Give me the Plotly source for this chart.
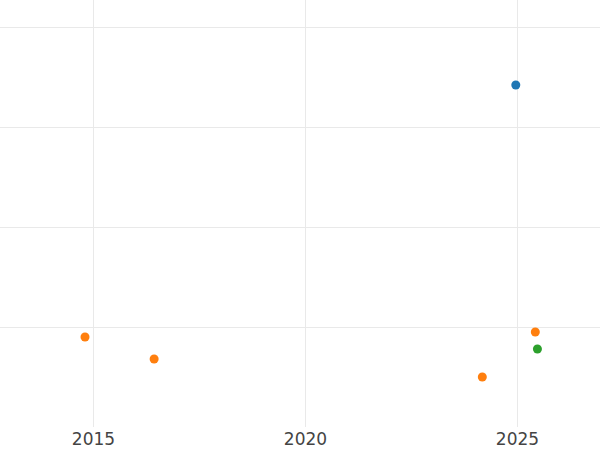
import plotly.graph_objects as go

# three groups of points, year vs value
blue_x = [2024.96]
blue_y = [342]
orange_x = [2014.80, 2016.43, 2024.17, 2025.42]
orange_y = [90, 68, 50, 95]
green_x = [2025.47]
green_y = [78]

fig = go.Figure()
fig.add_trace(go.Scatter(x=blue_x, y=blue_y, mode='markers', marker=dict(color='#1f77b4', size=9), name='A'))
fig.add_trace(go.Scatter(x=orange_x, y=orange_y, mode='markers', marker=dict(color='#ff7f0e', size=9), name='B'))
fig.add_trace(go.Scatter(x=green_x, y=green_y, mode='markers', marker=dict(color='#2ca02c', size=9), name='C'))

fig.update_layout(
    width=600, height=450,
    margin=dict(l=0, r=0, t=0, b=23),
    plot_bgcolor='white', paper_bgcolor='white',
    showlegend=False,
    font=dict(family='DejaVu Sans', size=17, color='#444'),
)
fig.update_xaxes(range=[2012.795, 2026.946], tickvals=[2015, 2020, 2025],
                 showgrid=True, gridcolor='#e9e9e9', gridwidth=1.2,
                 zeroline=False, showline=False, ticks='')
fig.update_yaxes(range=[0, 427], tickvals=[100, 200, 300, 400], showticklabels=False,
                 showgrid=True, gridcolor='#e9e9e9', gridwidth=1.2,
                 zeroline=False, showline=False, ticks='')

# drop the default page margin so the figure sits at the window corner
fig.write_html("out.html", config={'displayModeBar': False},
               post_script="document.body.style.margin='0';")
